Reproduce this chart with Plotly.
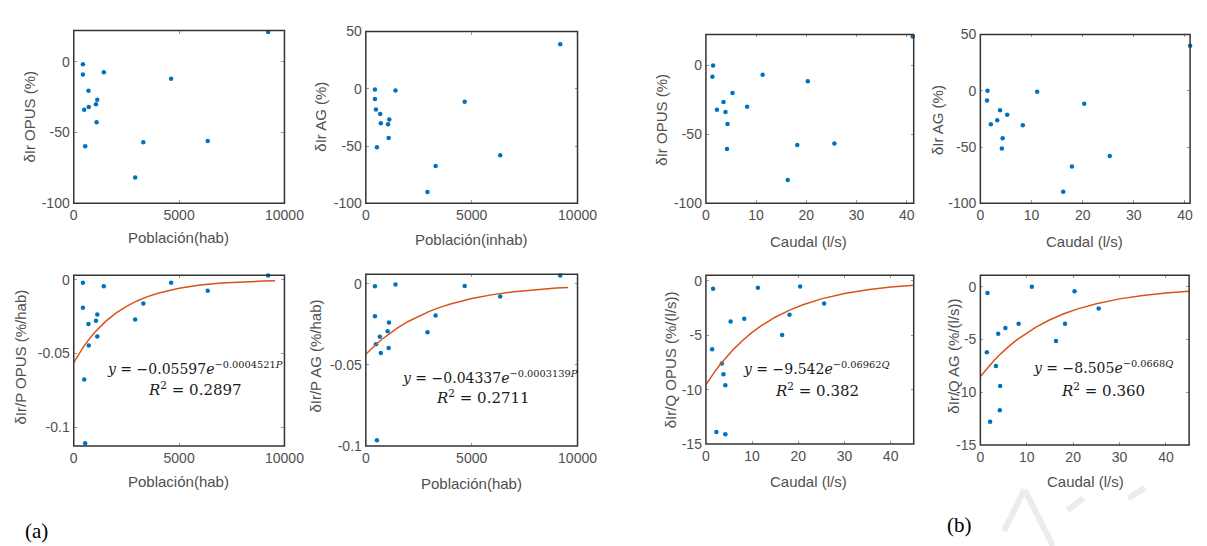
import numpy as np
import plotly.graph_objects as go

# ---------------- data ----------------
# Panel 1: dIr OPUS (%) vs population
pop_opus = [434, 434, 698, 1426, 4620, 9225, 1116, 1054, 713, 496, 1085, 3302, 6357, 543, 2915]
dir_opus_pop = [-1.8, -9, -20.5, -7.4, -12, 21, -26.8, -30, -32, -34, -42.8, -56.8, -56, -59.7, -81.8]

# Panel 2: dIr AG (%) vs population
pop_ag = [431, 431, 478, 678, 709, 1109, 1048, 1079, 524, 1402, 4669, 3297, 2912, 6348, 9183]
dir_ag_pop = [-0.6, -8.9, -18, -22, -30, -26.9, -31, -42.9, -51, -1.4, -11.4, -67.4, -90, -58, 39]

# Panel 3: dIr OPUS (%) vs flow
q_opus = [1.43, 1.3, 2.2, 3.5, 3.9, 4.3, 4.2, 5.3, 8.2, 11.3, 20.3, 18.2, 25.6, 16.3, 41.2]
dir_opus_q = [0, -8.2, -32.2, -26.5, -33.8, -42.5, -60.6, -20, -30, -6.8, -11.5, -57.7, -56.6, -83, 21]

# Panel 4: dIr AG (%) vs flow
q_ag = [1.4, 1.3, 2.05, 3.3, 3.85, 5.25, 4.36, 4.2, 8.3, 11.1, 20.3, 17.9, 16.2, 25.3, 41]
dir_ag_q = [0, -8.7, -29.8, -26.3, -17.3, -21.4, -42.2, -51.4, -30.6, -0.9, -11.6, -67.3, -89.6, -58, 40]

# Panel 5: dIr/P OPUS vs population
pop_p_opus = [434, 434, 698, 1426, 1116, 1054, 1116, 713, 496, 543, 2915, 3302, 4620, 6357, 9225]
dirp_opus = [-0.0022, -0.019, -0.030, -0.0045, -0.0235, -0.0278, -0.0384, -0.0446, -0.0675,
             -0.1106, -0.0269, -0.0162, -0.0022, -0.0075, 0.0028]

# Panel 6: dIr/P AG vs population
pop_p_ag = [431, 431, 1402, 4669, 9183, 6348, 1094, 1032, 663, 478, 709, 1079, 3297, 2912, 524]
dirp_ag = [-0.0014, -0.020, -0.0004, -0.0012, 0.0052, -0.0078, -0.0238, -0.0292, -0.0326,
           -0.0372, -0.0426, -0.0396, -0.0194, -0.0298, -0.0964]

# Panel 7: dIr/Q OPUS vs flow
q_q_opus = [1.55, 1.34, 2.25, 3.45, 3.8, 4.2, 4.2, 5.35, 8.3, 11.25, 16.5, 18.1, 20.4, 25.6, 41.1]
dirq_opus = [-0.75, -6.3, -13.9, -7.6, -8.6, -9.6, -14.1, -3.76, -3.5, -0.66, -5.0, -3.13, -0.54, -2.1, 0.66]

# Panel 8: dIr/Q AG vs flow
q_q_ag = [1.54, 1.4, 2.1, 3.36, 3.85, 5.4, 4.27, 4.2, 8.25, 11.1, 16.3, 18.25, 20.3, 25.5, 41.1]
dirq_ag = [-0.58, -6.2, -12.8, -7.5, -4.45, -3.9, -9.4, -11.7, -3.5, 0, -5.15, -3.5, -0.42, -2.06, 1.2]

# Fitted exponential models shown in the chart: y = a * exp(b * x)
fit_p_opus = (-0.05597, -0.0004521)
fit_p_ag = (-0.04337, -0.0003139)
fit_q_opus = (-9.542, -0.06962)
fit_q_ag = (-8.505, -0.0668)
fit_x_pop = [0, 250, 500, 750, 1000, 1500, 2000, 2500, 3000, 3500, 4000, 5000, 6000, 7000, 8000, 9000, 9550]
fit_x_q = [0, 1, 2, 3, 4, 5, 6, 8, 10, 12, 15, 18, 21, 25, 30, 35, 40, 45]

# tick values
ticks_pop = [0, 5000, 10000]
ticks_q = [0, 10, 20, 30, 40]
ticks_pct = [-100, -50, 0]
ticks_pct50 = [-100, -50, 0, 50]
ticks_p = [-0.1, -0.05, 0]
ticks_qq = [-15, -10, -5, 0]

# ---------------- layout helpers ----------------
W, H = 1207, 546
TXT = '#505050'
LINE = '#333333'
BLUE = '#0072BD'
ORANGE = '#D95319'
SANS = 'Liberation Sans, Arial, sans-serif'
SERIF = 'DejaVu Serif, serif'


def fx(px):
    return px / W


def fy(py):
    return 1 - py / H


def lab(v):
    return '%g' % v


def axis(dom, rng, vals, side):
    d = dict(domain=dom, range=rng, tickvals=vals, ticktext=[lab(v) for v in vals],
             showline=False, mirror='ticks',
             ticks='inside', ticklen=3, tickcolor='#999999', tickwidth=1,
             showgrid=False, zeroline=False,
             tickfont=dict(family=SANS, size=14, color=TXT))
    d['ticklabelstandoff'] = 2 if side == 'x' else 3
    return d


# panel frames in pixels: (left, right, top, bottom)
frames = [
    (63, 278, 15, 193), (361, 577, 16, 193), (708, 920, 19, 193), (988, 1202, 19, 193),
    (63, 278, 267, 443), (361, 577, 266, 443), (708, 920, 267, 441), (988, 1201, 267, 442),
]
xranges = [[0, 10000], [0, 10000], [0, 41.4], [0, 41.0],
           [0, 10000], [0, 10000], [0, 45], [0, 45]]
yranges = [[-100, 22], [-100, 50], [-100, 22.5], [-100, 50],
           [-0.1125, 0.003], [-0.1, 0.006], [-15, 0.5], [-15, 1.1]]
xticks = [ticks_pop, ticks_pop, ticks_q, ticks_q, ticks_pop, ticks_pop, ticks_q, ticks_q]
yticks = [ticks_pct, ticks_pct50, ticks_pct, ticks_pct50, ticks_p, ticks_p, ticks_qq, ticks_qq]

xs = [pop_opus, pop_ag, q_opus, q_ag, pop_p_opus, pop_p_ag, q_q_opus, q_q_ag]
ys = [dir_opus_pop, dir_ag_pop, dir_opus_q, dir_ag_q, dirp_opus, dirp_ag, dirq_opus, dirq_ag]

fig = go.Figure()
layout = {}
shapes = []

# faint watermark strokes (light grey) in the lower right
wm = [((1012, 531), (1033, 488)), ((1033, 488), (1062, 546)),
      ((1077, 509), (1093, 497)), ((1139, 497), (1156, 486))]
for (x0, y0), (x1, y1) in wm:
    shapes.append(dict(type='line', xref='paper', yref='paper', x0=fx(x0), y0=fy(y0),
                       x1=fx(x1), y1=fy(y1), line=dict(color='#ececec', width=6), layer='below'))

for i in range(8):
    n = '' if i == 0 else str(i + 1)
    l, r, t, b = frames[i]
    layout['xaxis' + n] = axis([fx(l), fx(r)], xranges[i], xticks[i], 'x')
    layout['yaxis' + n] = axis([fy(b), fy(t)], yranges[i], yticks[i], 'y')
    layout['xaxis' + n]['anchor'] = 'y' + n
    layout['yaxis' + n]['anchor'] = 'x' + n
    shapes.append(dict(type='rect', xref='x' + n + ' domain', yref='y' + n + ' domain',
                       x0=0, x1=1, y0=0, y1=1, line=dict(color=LINE, width=1.5),
                       fillcolor='rgba(0,0,0,0)', layer='above'))
    fig.add_trace(go.Scatter(x=xs[i], y=ys[i], mode='markers', xaxis='x' + n, yaxis='y' + n,
                             marker=dict(color=BLUE, size=4.5), showlegend=False, cliponaxis=False))

# fitted curves
fits = [(5, fit_p_opus, fit_x_pop), (6, fit_p_ag, fit_x_pop), (7, fit_q_opus, fit_x_q), (8, fit_q_ag, fit_x_q)]
for k, (a, bcoef), xg in fits:
    xg = np.array(xg, dtype=float)
    fig.add_trace(go.Scatter(x=xg, y=a * np.exp(bcoef * xg), mode='lines',
                             xaxis='x%d' % k, yaxis='y%d' % k,
                             line=dict(color=ORANGE, width=1.5), showlegend=False))

ann = []


def text(x, y, s, size=15, angle=0, family=SANS, color=TXT):
    ann.append(dict(x=fx(x), y=fy(y), xref='paper', yref='paper', text=s, showarrow=False,
                    textangle=angle, xanchor='center', yanchor='middle',
                    font=dict(family=family, size=size, color=color)))


# x-axis titles
text(170, 228, 'Población(hab)')
text(469, 230, 'Población(inhab)')
text(813, 232, 'Caudal (l/s)')
text(1094, 232, 'Caudal (l/s)')
text(170, 480, 'Población(hab)')
text(469, 482, 'Población(hab)')
text(813, 480, 'Caudal (l/s)')
text(1095, 480, 'Caudal (l/s)')

# y-axis titles
text(18, 104, 'δIr OPUS (%)', angle=-90)
text(315, 104, 'δIr AG (%)', angle=-90)
text(663, 107, 'δIr OPUS (%)', angle=-90)
text(945, 107, 'δIr AG (%)', angle=-90)
text(9, 351, 'δIr/P OPUS (%/hab)', angle=-90)
text(310, 350, 'δIr/P AG (%/hab)', angle=-90)
text(672, 354, 'δIr/Q OPUS (%/(l/s))', angle=-90)
text(961, 350, 'δIr/Q AG (%/(l/s))', angle=-90)

# fit equations
EQ = '#1a1a1a'
text(187, 363, '<i>y</i> = −0.05597<i>e</i><sup>−0.0004521<i>P</i></sup>', size=14, family=SERIF, color=EQ)
text(187, 384, '<i>R</i><sup>2</sup> = 0.2897', size=15, family=SERIF, color=EQ)
text(488, 372, '<i>y</i> = −0.04337<i>e</i><sup>−0.0003139<i>P</i></sup>', size=14, family=SERIF, color=EQ)
text(481, 393, '<i>R</i><sup>2</sup> = 0.2711', size=15, family=SERIF, color=EQ)
text(820, 363, '<i>y</i> = −9.542<i>e</i><sup>−0.06962<i>Q</i></sup>', size=14, family=SERIF, color=EQ)
text(821, 385, '<i>R</i><sup>2</sup> = 0.382', size=15, family=SERIF, color=EQ)
text(1113, 362, '<i>y</i> = −8.505<i>e</i><sup>−0.0668<i>Q</i></sup>', size=14, family=SERIF, color=EQ)
text(1113, 385, '<i>R</i><sup>2</sup> = 0.360', size=15, family=SERIF, color=EQ)

# panel labels
text(25, 531, '(a)', size=21, family='Liberation Serif, serif', color='#000000')
text(967, 524, '(b)', size=21, family='Liberation Serif, serif', color='#000000')

fig.update_layout(width=W, height=H, margin=dict(l=0, r=0, t=0, b=0),
                  paper_bgcolor='white', plot_bgcolor='white', annotations=ann,
                  shapes=shapes, **layout)

fig.write_html('out.html')
